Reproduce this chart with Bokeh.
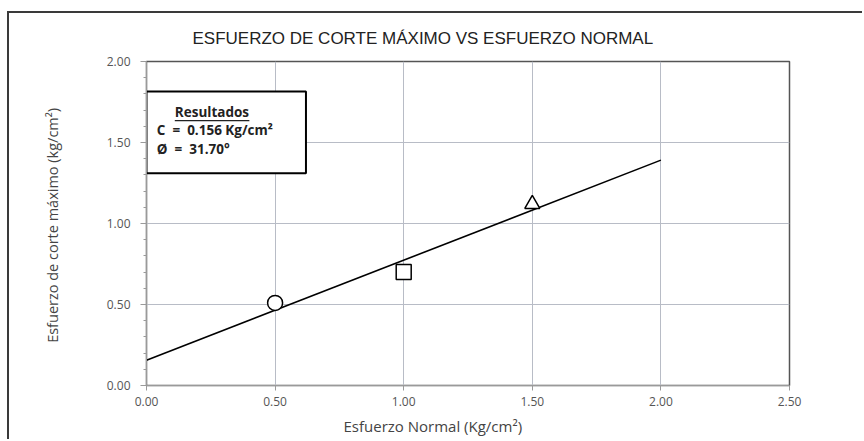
import math
from bokeh.plotting import figure
from bokeh.models import Range1d, FixedTicker, NumeralTickFormatter, BoxAnnotation, Title
from bokeh.core.properties import value
from bokeh.embed import file_html
from bokeh.resources import INLINE

# data
sigma_n = [0.50, 1.00, 1.50]
tau_max = [0.51, 0.70, 1.12]
markers = ["circle", "square", "triangle"]
cohesion = 0.156
phi_deg = 31.70
fit_x = [0.0, 2.0]
x_ticks = [0.0, 0.5, 1.0, 1.5, 2.0, 2.5]
y_ticks = [0.0, 0.5, 1.0, 1.5, 2.0]
y_minor = [i / 10 for i in range(21)]

fit_y = [cohesion + x * math.tan(math.radians(phi_deg)) for x in fit_x]

font = "Open Sans"
NB = "\u00a0"

p = figure(width=855, height=428, output_backend="svg", toolbar_location=None,
           x_range=Range1d(0, 2.5), y_range=Range1d(0, 2.0),
           min_border_left=137, min_border_right=75, min_border_top=47, min_border_bottom=56)
p.styles = {"margin-left": "7px", "margin-top": "11px",
            "border-left": "2px solid #3a3a3a", "border-top": "2px solid #3a3a3a"}
p.background_fill_color = "white"
p.border_fill_color = "white"
p.outline_line_color = "#555555"
p.outline_line_width = 1.5

for ax in (p.xaxis, p.yaxis):
    ax.major_label_text_font = font
    ax.major_label_text_font_size = "12px"
    ax.major_label_text_color = "#555555"
    ax.axis_line_color = "#9a9a9a"
    ax.major_tick_line_color = "#9a9a9a"
    ax.minor_tick_line_color = "#9a9a9a"
    ax.formatter = NumeralTickFormatter(format="0.00")

p.xaxis.ticker = FixedTicker(ticks=x_ticks)
p.yaxis.ticker = FixedTicker(ticks=y_ticks, minor_ticks=y_minor)
p.xaxis.major_tick_in = 0
p.xaxis.major_tick_out = 5
p.yaxis.major_tick_in = 0
p.yaxis.major_tick_out = 6
p.yaxis.minor_tick_in = 0
p.yaxis.minor_tick_out = 3
p.xaxis.minor_tick_line_color = None
p.xaxis.major_label_standoff = 6
p.yaxis.major_label_standoff = 10

p.yaxis.axis_label = "Esfuerzo de corte máximo  (kg/cm²)"
p.yaxis.axis_label_text_font = font
p.yaxis.axis_label_text_font_style = "normal"
p.yaxis.axis_label_text_font_size = "14.5px"
p.yaxis.axis_label_text_color = "#444444"
p.yaxis.axis_label_standoff = 42

p.xgrid.ticker = FixedTicker(ticks=x_ticks)
p.ygrid.ticker = FixedTicker(ticks=y_ticks)
p.grid.grid_line_color = "#b8bcc6"
p.grid.grid_line_width = 1

t = Title(text="ESFUERZO DE CORTE MÁXIMO VS ESFUERZO NORMAL", align="left", offset=46,
          text_font="Liberation Sans", text_font_size="17px", text_font_style="normal",
          text_color="#222222", standoff=27)
p.add_layout(t, "above")

xl = Title(text="Esfuerzo Normal (Kg/cm²)", align="left", offset=197,
           text_font=font, text_font_size="15px", text_font_style="normal",
           text_color="#444444", standoff=10)
p.add_layout(xl, "below")

p.line(fit_x, fit_y, line_color="black", line_width=1.6)
for xv, yv, mk in zip(sigma_n, tau_max, markers):
    p.scatter([xv], [yv], marker=mk, size=15, fill_color="white", line_color="black", line_width=1.5)

# results box
p.add_layout(BoxAnnotation(left=0.0, right=0.62, top=1.815, bottom=1.31, level="underlay",
                           fill_color="white", fill_alpha=1, line_color="black", line_alpha=1, line_width=2))
p.text([0.11], [1.69], text=["Resultados"], text_font=value(font), text_font_style="bold",
       text_font_size="13.5px", text_baseline="middle", text_color="#222222")
p.line([0.11, 0.40], [1.635, 1.635], line_color="#222222", line_width=1.2)
p.text([0.04], [1.575], text=["C" + NB * 2 + "=" + NB * 2 + f"{cohesion:.3f}" + " Kg/cm²"], text_font=value(font),
       text_font_style="bold", text_font_size="13.5px", text_baseline="middle", text_color="#222222")
p.text([0.04], [1.46], text=["Ø" + NB * 2 + "=" + NB * 2 + f"{phi_deg:.2f}" + "°"], text_font=value(font),
       text_font_style="bold", text_font_size="13.5px", text_baseline="middle", text_color="#222222")

open("out.html", "w").write(file_html(p, INLINE))
